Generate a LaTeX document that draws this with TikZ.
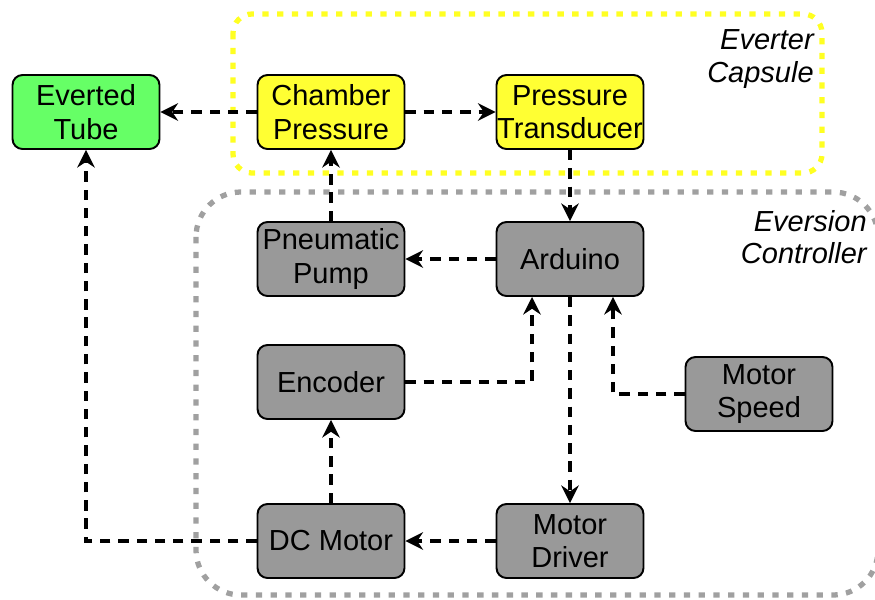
\documentclass[tikz,border=0pt]{standalone}
\usepackage{fontspec}
\setmainfont{Liberation Sans}
\usetikzlibrary{arrows.meta}

\definecolor{tubegreen}{HTML}{66FF66}
\definecolor{capyellow}{HTML}{FFFF33}
\definecolor{ctrlgray}{HTML}{999999}
\definecolor{groupyellow}{HTML}{FFFF22}
\definecolor{groupgray}{HTML}{A0A0A0}

\tikzset{
    block/.style={draw=black, line width=1.1pt, rounded corners=0.2cm,
        minimum width=2.94cm, minimum height=1.48cm, inner sep=0pt,
        align=center, font=\fontsize{16.5}{19}\selectfont},
    tube/.style={block, fill=tubegreen},
    capsule/.style={block, fill=capyellow},
    ctrl/.style={block, fill=ctrlgray},
    group/.style={line width=3pt, dash pattern=on 3.6pt off 4.8pt},
    grouplabel/.style={align=right, inner sep=0pt,
        font=\fontsize{16.5}{18.5}\selectfont\itshape},
    link/.style={line width=1.9pt, dash pattern=on 5.9pt off 4.5pt,
        -{Stealth[length=10pt, width=10pt, inset=3.3pt]}}
}

\begin{document}
\begin{tikzpicture}[x=0.02cm, y=-0.02cm]
        \useasboundingbox (0,0) rectangle (875,599);

        % groups
        \draw[group, groupyellow, rounded corners=0.38cm] (233,14) rectangle (822,173);
        \draw[group, groupgray, rounded corners=0.9cm] (196,192) rectangle (878,595);
        \node[grouplabel, anchor=east] (capsulelbl) at (814,59) {Everter\\Capsule};
        \node[grouplabel, anchor=east] (ctrllbl) at (867,237) {Eversion\\Controller};

        % blocks
        \node[tube]    (tube)       at (86,112)  {Everted\\Tube};
        \node[capsule] (chamber)    at (331,112) {Chamber\\Pressure};
        \node[capsule] (transducer) at (570,112) {Pressure\\Transducer};
        \node[ctrl]    (pump)       at (331,259) {Pneumatic\\Pump};
        \node[ctrl]    (arduino)    at (570,259) {Arduino};
        \node[ctrl]    (encoder)    at (331,382) {Encoder};
        \node[ctrl]    (speed)      at (759,394) {Motor\\Speed};
        \node[ctrl]    (dcmotor)    at (331,541) {DC Motor};
        \node[ctrl]    (driver)     at (570,541) {Motor\\Driver};

        % signals
        \draw[link] (chamber) -- (tube);
        \draw[link] (chamber) -- (transducer);
        \draw[link] (transducer) -- (arduino);
        \draw[link] (arduino) -- (pump);
        \draw[link] (pump) -- (chamber);
        \draw[link] (encoder.east) -| ([xshift=-0.76cm]arduino.south);
        \draw[link] (speed.west) -| ([xshift=0.86cm]arduino.south);
        \draw[link] (arduino) -- (driver);
        \draw[link] (driver) -- (dcmotor);
        \draw[link] (dcmotor) -- (encoder);
        \draw[link] (dcmotor.west) -| (tube.south);
    \end{tikzpicture}
\end{document}
